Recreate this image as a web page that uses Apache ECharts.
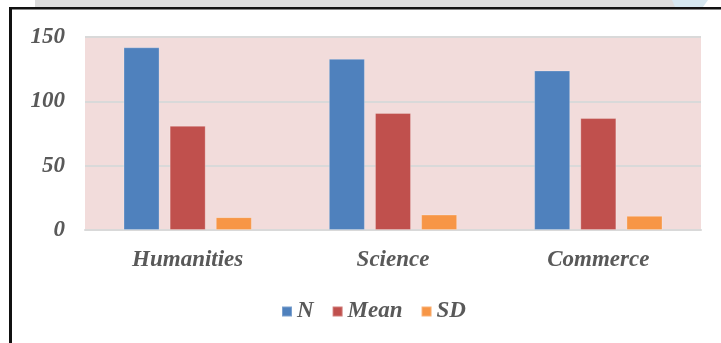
<!DOCTYPE html>
<html>
<head>
<meta charset="utf-8">
<script src="https://cdn.jsdelivr.net/npm/echarts@6/dist/echarts.min.js"></script>
<style>
  html, body { margin: 0; padding: 0; background: #ffffff; }
  #chart { width: 721px; height: 343px; }
</style>
</head>
<body>
<div id="chart"></div>
<script>
// Streams and their summary statistics
const categories = ['Humanities', 'Science', 'Commerce'];
const seriesNames = ['N', 'Mean', 'SD'];
const nValues = [142, 133, 124];
const meanValues = [81, 91, 87];
const sdValues = [10, 12, 11];
const yTicks = [0, 50, 100, 150];

const colors = ['#4f81bd', '#c0504d', '#f79646'];
const labelFont = {
  fontFamily: '"Liberation Serif", "Times New Roman", serif',
  fontStyle: 'italic',
  fontWeight: 'bold',
  color: '#595959'
};

const chart = echarts.init(document.getElementById('chart'), null, { renderer: 'canvas' });

chart.setOption({
  backgroundColor: '#ffffff',
  animation: false,
  color: colors,
  grid: {
    left: 85, right: 20, top: 37, bottom: 113,
    show: true,
    backgroundColor: '#f2dcdb',
    borderWidth: 0
  },
  legend: {
    data: seriesNames,
    top: 295,
    left: 276,
    icon: 'rect',
    itemWidth: 10,
    itemHeight: 10,
    itemGap: 18,
    textStyle: Object.assign({ fontSize: 23 }, labelFont)
  },
  xAxis: {
    type: 'category',
    data: categories,
    axisLine: { show: true, lineStyle: { color: '#d9d9d9', width: 2 } },
    axisTick: { show: false },
    axisLabel: Object.assign({ fontSize: 23, margin: 19 }, labelFont)
  },
  yAxis: {
    type: 'value',
    min: yTicks[0],
    max: yTicks[yTicks.length - 1],
    interval: yTicks[1] - yTicks[0],
    axisLine: { show: false },
    axisTick: { show: false },
    splitLine: { lineStyle: { color: '#d9d9d9', width: 2 } },
    axisLabel: Object.assign({ fontSize: 23, margin: 20, padding: [9, 0, 0, 0] }, labelFont)
  },
  series: [
    { name: seriesNames[0], type: 'bar', data: nValues, barGap: '28%', barCategoryGap: '37.5%',
      itemStyle: { borderColor: 'rgba(255,255,255,0.25)', borderWidth: 1 } },
    { name: seriesNames[1], type: 'bar', data: meanValues,
      itemStyle: { borderColor: 'rgba(255,255,255,0.25)', borderWidth: 1 } },
    { name: seriesNames[2], type: 'bar', data: sdValues,
      itemStyle: { borderColor: 'rgba(255,255,255,0.25)', borderWidth: 1 } }
  ],
  graphic: [
    // strip above the frame
    { type: 'rect', silent: true, shape: { x: 35, y: 0, width: 640, height: 7 }, style: { fill: '#dcdcdc' } },
    { type: 'polygon', silent: true, shape: { points: [[672, 0], [708, 0], [703, 7], [675, 7]] }, style: { fill: '#d6e7f0' } },
    // frame lines
    { type: 'rect', silent: true, shape: { x: 9, y: 7, width: 712, height: 2.5 }, style: { fill: '#111111' } },
    { type: 'rect', silent: true, shape: { x: 9, y: 7, width: 3, height: 336 }, style: { fill: '#111111' } }
  ]
});
</script>
</body>
</html>
